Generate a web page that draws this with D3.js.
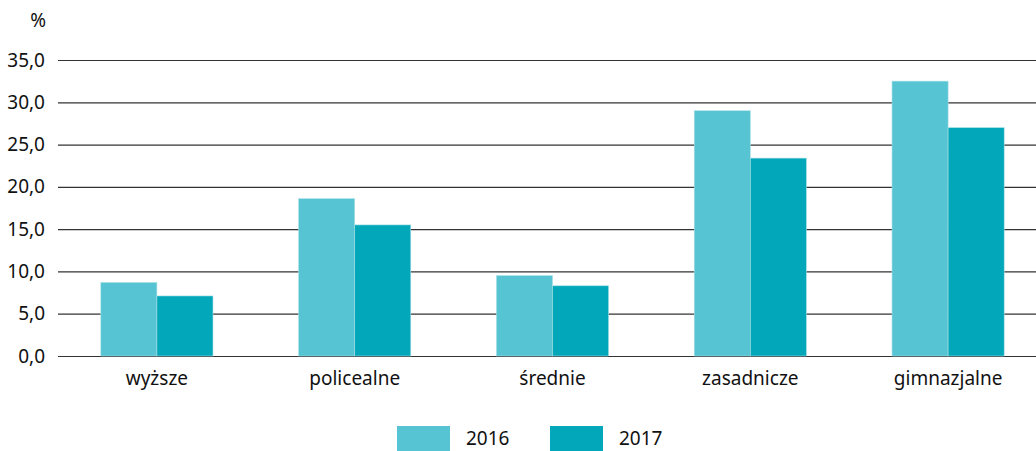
<!DOCTYPE html>
<html><head><meta charset="utf-8">
<script src="https://cdn.jsdelivr.net/npm/d3@7/dist/d3.min.js"></script>
<style>body{margin:0;background:#fff;} text{font-family:"Noto Sans","Open Sans",sans-serif;fill:#111;}</style>
</head><body><svg id="c" width="1036" height="451"></svg>
<script>
const categories = ["wyższe","policealne","średnie","zasadnicze","gimnazjalne"];
const seriesNames = ["2016","2017"];
const values2016 = [8.7,18.6,9.5,29.0,32.5];
const values2017 = [7.1,15.5,8.3,23.4,27.0];
const yTicks = [0,5,10,15,20,25,30,35];
const colors = ["#56c4d2","#02a7ba"];

const FS = 19;
const FF = "'Noto Sans','Open Sans',sans-serif";
const svg = d3.select("#c");
const y = d3.scaleLinear().domain([0,35]).range([356,60]);
const x = d3.scaleBand().domain(categories).range([58,1047]).paddingInner(0.433).paddingOuter(0.2165);
const x1 = d3.scaleBand().domain(seriesNames).range([0,x.bandwidth()]);
const fmt = v => d3.format(".1f")(v).replace(".",",");

// grid
const yAxis = d3.axisLeft(y).tickValues(yTicks).tickFormat(fmt).tickSize(-(1036-58)).tickPadding(13);
const ga = svg.append("g").attr("transform","translate(58,0)").call(yAxis);
ga.select(".domain").remove();
ga.selectAll(".tick line").attr("stroke","#333").attr("stroke-width",1.2);
ga.selectAll(".tick text").attr("font-size",FS).attr("fill","#111").attr("font-family",FF);

svg.append("text").attr("x",46).attr("y",27).attr("text-anchor","end").attr("font-size",FS).attr("font-family",FF).text("%");

const data = [values2016, values2017];
categories.forEach((c,i)=>{
  seriesNames.forEach((s,j)=>{
    svg.append("rect")
      .attr("x", x(c)+x1(s)).attr("width", x1.bandwidth())
      .attr("y", y(data[j][i])).attr("height", y(0)-y(data[j][i]))
      .attr("fill", colors[j]).attr("stroke","#a8dfe6").attr("stroke-width",0.6);
  });
});

// x labels
const xa = svg.append("g").attr("transform","translate(0,356)").call(d3.axisBottom(x).tickSize(0).tickPadding(16));
xa.select(".domain").remove();
xa.selectAll("text").attr("font-size",FS).attr("fill","#111").attr("font-family",FF);

// legend
const legX = [397,550];
seriesNames.forEach((s,j)=>{
  svg.append("rect").attr("x",legX[j]).attr("y",426).attr("width",53).attr("height",25).attr("fill",colors[j]);
  svg.append("text").attr("x",legX[j]+69).attr("y",445).attr("font-size",FS).attr("font-family",FF).text(s);
});
</script></body></html>
